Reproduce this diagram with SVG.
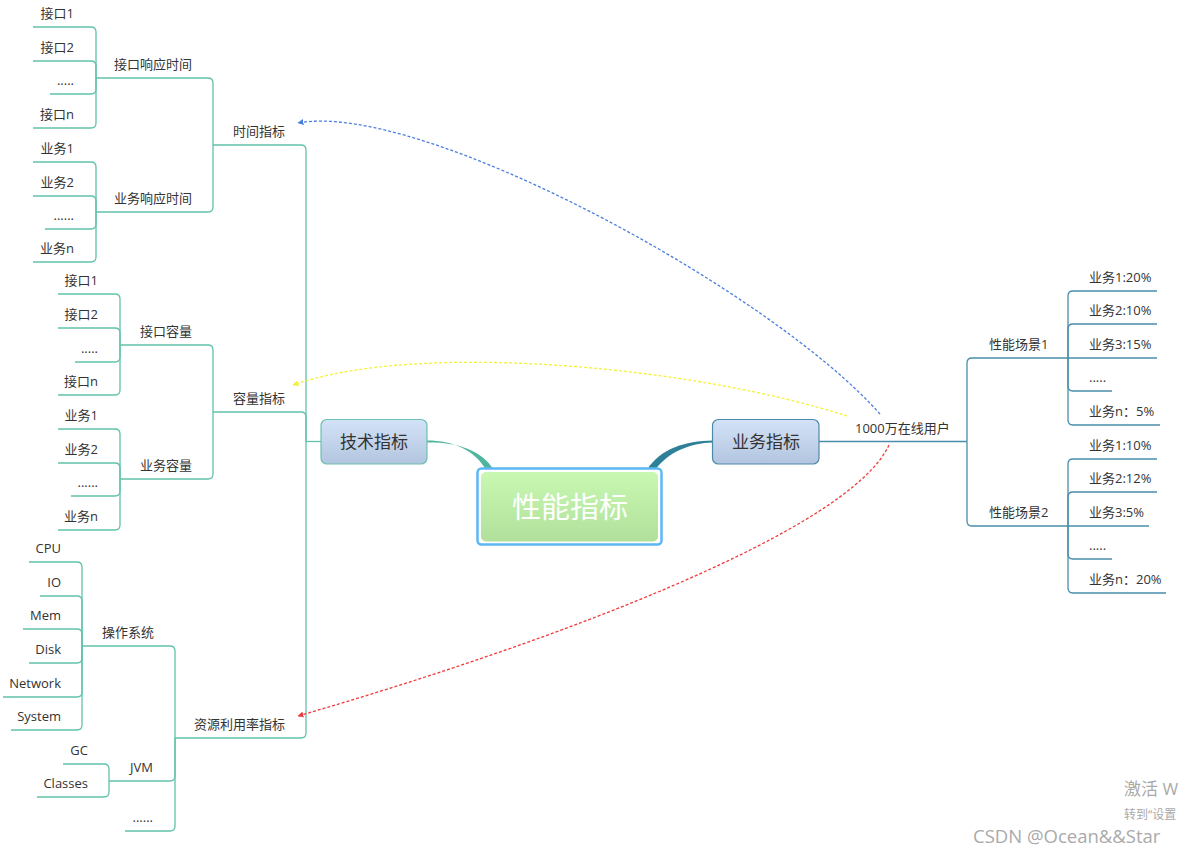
<svg xmlns="http://www.w3.org/2000/svg" width="1182" height="848" viewBox="0 0 1182 848">
<style>
.lt{fill:none;stroke:#62c2ab;stroke-width:1.3}
.rt{fill:none;stroke:#4a8dab;stroke-width:1.3}
.t{font-family:"Open Sans","Noto Sans CJK SC",sans-serif;font-size:13px;fill:#333}
.e{text-anchor:end}
.dash{fill:none;stroke-width:1.3;stroke-dasharray:3 2}
.box{font-family:"Open Sans","Noto Sans CJK SC",sans-serif;font-size:17px;fill:#333;text-anchor:middle}
.wm{font-family:"Open Sans","Noto Sans CJK SC",sans-serif;fill:#aaa}
</style>
<defs>
<linearGradient id="gb" x1="0" y1="0" x2="0" y2="1"><stop offset="0" stop-color="#d2e3f8"/><stop offset="1" stop-color="#b3c4df"/></linearGradient>
<linearGradient id="gg" x1="0" y1="0" x2="0" y2="1"><stop offset="0" stop-color="#c8f8b1"/><stop offset="1" stop-color="#b0e09b"/></linearGradient>
<marker id="ab" viewBox="0 0 10 10" refX="9" refY="5" markerWidth="6" markerHeight="6" markerUnits="userSpaceOnUse" orient="auto"><path d="M0,0L10,5L0,10Z" fill="#4a7fe0"/></marker>
<marker id="ay" viewBox="0 0 10 10" refX="9" refY="5" markerWidth="6" markerHeight="6" markerUnits="userSpaceOnUse" orient="auto"><path d="M0,0L10,5L0,10Z" fill="#f2f23a"/></marker>
<marker id="ar" viewBox="0 0 10 10" refX="9" refY="5" markerWidth="6" markerHeight="6" markerUnits="userSpaceOnUse" orient="auto"><path d="M0,0L10,5L0,10Z" fill="#f03a3a"/></marker>
</defs>
<rect width="1182" height="848" fill="#fff"/>
<g id="connectors">
<path d="M427,440.6C452,440.5 475,450 486,470L494,470C481,449 456,442 427,442.4Z" fill="#4fb5a0"/>
<path d="M647,470C660,449 685,441 713,440.6L713,442.4C690,443 668,452 655,470Z" fill="#2e7f98"/>
<g class="lt">
<path d="M321,441.5H306"/>
<path d="M306,441.5V150Q306,145 301,145H213"/>
<path d="M306,441.5V417Q306,412 301,412H213"/>
<path d="M306,441.5V733Q306,738 301,738H175"/>
<path d="M213,145V83Q213,78 208,78H96"/>
<path d="M213,145V207Q213,212 208,212H96"/>
<path d="M96,78V32Q96,27 91,27H33"/>
<path d="M96,78V66Q96,61 91,61H33"/>
<path d="M96,78V89Q96,94 91,94H50"/>
<path d="M96,78V123Q96,128 91,128H33"/>
<path d="M96,212V167Q96,162 91,162H33"/>
<path d="M96,212V201Q96,196 91,196H33"/>
<path d="M96,212V224Q96,229 91,229H45"/>
<path d="M96,212V257Q96,262 91,262H33"/>
<path d="M213,412V350Q213,345 208,345H120"/>
<path d="M213,412V474Q213,479 208,479H120"/>
<path d="M120,345V299Q120,294 115,294H58"/>
<path d="M120,345V333Q120,328 115,328H58"/>
<path d="M120,345V357Q120,362 115,362H75"/>
<path d="M120,345V390Q120,395 115,395H58"/>
<path d="M120,479V434Q120,429 115,429H58"/>
<path d="M120,479V468Q120,463 115,463H58"/>
<path d="M120,479V491Q120,496 115,496H71"/>
<path d="M120,479V525Q120,530 115,530H58"/>
<path d="M175,738V651Q175,646 170,646H82"/>
<path d="M175,738V776Q175,781 170,781H109"/>
<path d="M175,738V826Q175,831 170,831H125"/>
<path d="M82,646V567Q82,562 77,562H29"/>
<path d="M82,646V601Q82,596 77,596H40"/>
<path d="M82,646V634Q82,629 77,629H23"/>
<path d="M82,646V658Q82,663 77,663H29"/>
<path d="M82,646V692Q82,697 77,697H3"/>
<path d="M82,646V725Q82,730 77,730H11"/>
<path d="M109,781V769Q109,764 104,764H63"/>
<path d="M109,781V792Q109,797 104,797H37"/>
</g>
<g class="rt">
<path d="M819,441.5H967"/>
<path d="M967,441.5V363Q967,358 972,358H1068"/>
<path d="M967,441.5V521Q967,526 972,526H1068"/>
<path d="M1068,358V296Q1068,291 1073,291H1157"/>
<path d="M1068,358V329Q1068,324 1073,324H1157"/>
<path d="M1068,358H1157"/>
<path d="M1068,358V386Q1068,391 1073,391H1112"/>
<path d="M1068,358V420Q1068,425 1073,425H1160"/>
<path d="M1068,526V464Q1068,459 1073,459H1157"/>
<path d="M1068,526V497Q1068,492 1073,492H1157"/>
<path d="M1068,526H1149"/>
<path d="M1068,526V554Q1068,559 1073,559H1112"/>
<path d="M1068,526V588Q1068,593 1073,593H1166"/>
</g>
<path class="dash" stroke="#4a7fe0" d="M880,414C770,290 420,100 298,123" marker-end="url(#ab)"/>
<path class="dash" stroke="#f2f23a" d="M847,416C700,368 420,340 293,385" marker-end="url(#ay)"/>
<path class="dash" stroke="#f03a3a" d="M889,445C850,530 560,640 298,716" marker-end="url(#ar)"/>
</g>
<g id="root">
<rect x="477.5" y="468.5" width="184" height="76" rx="4" fill="#fff" stroke="#5cb8f4" stroke-width="2.5"/>
<rect x="481" y="472" width="177" height="69.5" rx="5" fill="url(#gg)"/>
<text x="570" y="517.5" font-family="Open Sans, Noto Sans CJK SC, sans-serif" font-size="29" fill="#fff" text-anchor="middle">性能指标</text>
</g>
<g id="tech">
<rect x="321" y="419.5" width="106" height="44.5" rx="6" fill="url(#gb)" stroke="#6cc0b2" stroke-width="1.2"/>
<text class="box" x="374" y="448">技术指标</text>
</g>
<g id="biz">
<rect x="712.5" y="419.5" width="106.5" height="44.5" rx="6" fill="url(#gb)" stroke="#4d8aa8" stroke-width="1.2"/>
<text class="box" x="766" y="448">业务指标</text>
</g>
<g id="time"><text class="t e" x="285" y="136">时间指标</text></g>
<g id="api-rt"><text class="t e" x="192" y="69">接口响应时间</text></g>
<g id="api-rt-1"><text class="t e" x="74" y="18">接口1</text></g>
<g id="api-rt-2"><text class="t e" x="74" y="52">接口2</text></g>
<g id="api-rt-3"><text class="t e" x="74" y="85">.....</text></g>
<g id="api-rt-n"><text class="t e" x="74" y="119">接口n</text></g>
<g id="biz-rt"><text class="t e" x="192" y="203">业务响应时间</text></g>
<g id="biz-rt-1"><text class="t e" x="74" y="153">业务1</text></g>
<g id="biz-rt-2"><text class="t e" x="74" y="187">业务2</text></g>
<g id="biz-rt-3"><text class="t e" x="74" y="220">......</text></g>
<g id="biz-rt-n"><text class="t e" x="74" y="253">业务n</text></g>
<g id="cap"><text class="t e" x="285" y="403">容量指标</text></g>
<g id="api-cap"><text class="t e" x="192" y="336">接口容量</text></g>
<g id="api-cap-1"><text class="t e" x="98" y="285">接口1</text></g>
<g id="api-cap-2"><text class="t e" x="98" y="319">接口2</text></g>
<g id="api-cap-3"><text class="t e" x="98" y="353">.....</text></g>
<g id="api-cap-n"><text class="t e" x="98" y="386">接口n</text></g>
<g id="biz-cap"><text class="t e" x="192" y="470">业务容量</text></g>
<g id="biz-cap-1"><text class="t e" x="98" y="420">业务1</text></g>
<g id="biz-cap-2"><text class="t e" x="98" y="454">业务2</text></g>
<g id="biz-cap-3"><text class="t e" x="98" y="487">......</text></g>
<g id="biz-cap-n"><text class="t e" x="98" y="521">业务n</text></g>
<g id="res"><text class="t e" x="285" y="729">资源利用率指标</text></g>
<g id="os"><text class="t e" x="154" y="637">操作系统</text></g>
<g id="cpu"><text class="t e" x="61" y="553">CPU</text></g>
<g id="io"><text class="t e" x="61" y="587">IO</text></g>
<g id="mem"><text class="t e" x="61" y="620">Mem</text></g>
<g id="disk"><text class="t e" x="61" y="654">Disk</text></g>
<g id="network"><text class="t e" x="61" y="688">Network</text></g>
<g id="system"><text class="t e" x="61" y="721">System</text></g>
<g id="jvm"><text class="t e" x="153" y="772">JVM</text></g>
<g id="gc"><text class="t e" x="88" y="755">GC</text></g>
<g id="classes"><text class="t e" x="88" y="788">Classes</text></g>
<g id="res-more"><text class="t e" x="153" y="822">......</text></g>
<g id="users"><text class="t" x="855" y="433">1000万在线用户</text></g>
<g id="scene1"><text class="t" x="989" y="349">性能场景1</text></g>
<g id="s1-1"><text class="t" x="1089" y="282">业务1:20%</text></g>
<g id="s1-2"><text class="t" x="1089" y="315">业务2:10%</text></g>
<g id="s1-3"><text class="t" x="1089" y="349">业务3:15%</text></g>
<g id="s1-4"><text class="t" x="1089" y="382">.....</text></g>
<g id="s1-n"><text class="t" x="1089" y="416">业务n：5%</text></g>
<g id="scene2"><text class="t" x="989" y="517">性能场景2</text></g>
<g id="s2-1"><text class="t" x="1089" y="450">业务1:10%</text></g>
<g id="s2-2"><text class="t" x="1089" y="483">业务2:12%</text></g>
<g id="s2-3"><text class="t" x="1089" y="517">业务3:5%</text></g>
<g id="s2-4"><text class="t" x="1089" y="550">.....</text></g>
<g id="s2-n"><text class="t" x="1089" y="584">业务n：20%</text></g>
<g id="watermark">
<text class="wm" x="1124" y="795" font-size="17" fill="#b5b5b5">激活 W</text>
<text class="wm" x="1124" y="819" font-size="12" fill="#b5b5b5">转到“设置</text>
<text class="wm" x="973" y="843" font-size="18.5" fill="#999">CSDN @Ocean&amp;&amp;Star</text>
</g>
</svg>
